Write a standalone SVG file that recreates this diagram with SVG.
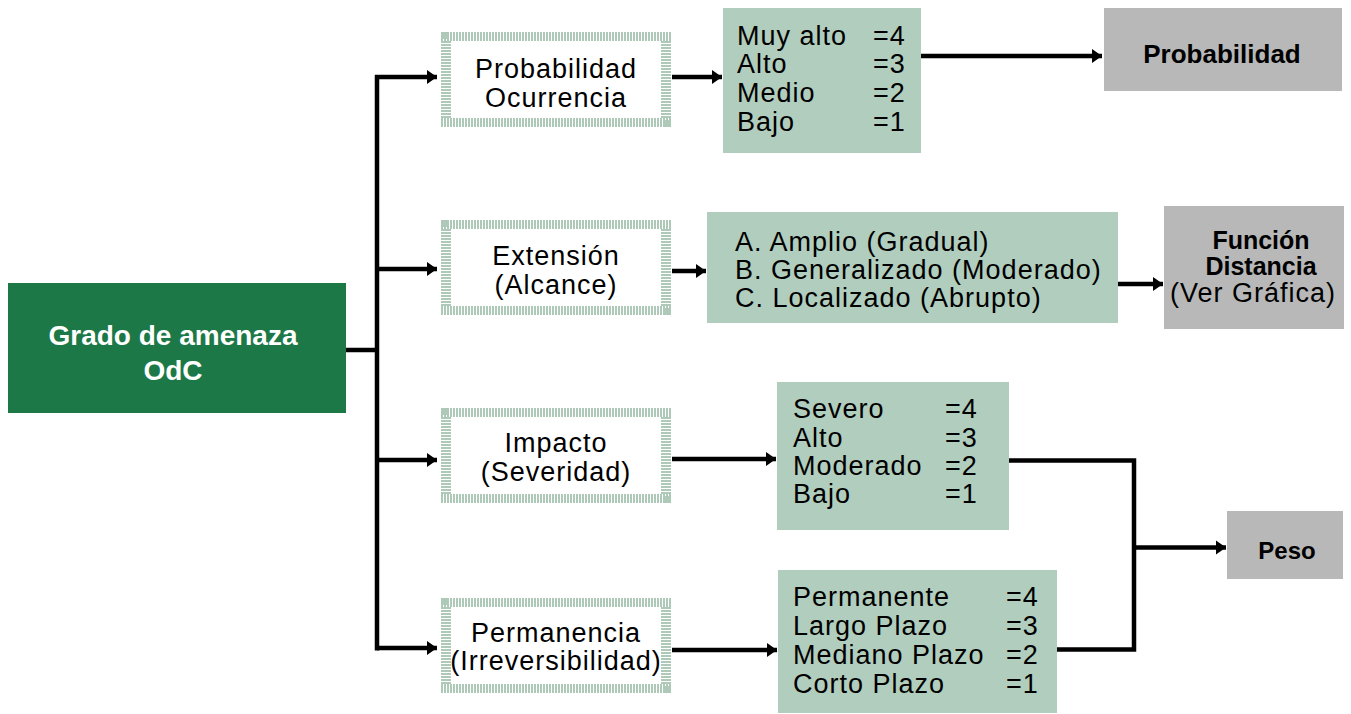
<svg xmlns="http://www.w3.org/2000/svg" width="1351" height="714" viewBox="0 0 1351 714">
<style>
text{font-family:"Liberation Sans",Arial,sans-serif;fill:#000}
.t{font-size:27px;letter-spacing:1px}
.c{text-anchor:middle}
.b{font-weight:bold}
.w{fill:#fff}
.val{fill:#b1cdbd}
.gray{fill:#b8b8b8}
.conn{fill:none;stroke:#000;stroke-width:4.5}
.arr{marker-end:url(#ah)}
</style>
<defs>
<pattern id="pv" width="3" height="20" patternUnits="userSpaceOnUse"><rect width="2" height="20" fill="#aec9b8"/></pattern>
<pattern id="ph" width="20" height="3" patternUnits="userSpaceOnUse"><rect width="20" height="2" fill="#aec9b8"/></pattern>
<marker id="ah" markerWidth="11" markerHeight="16" refX="10" refY="8" orient="auto" markerUnits="userSpaceOnUse">
<path d="M0,1 L10,8 L0,15 Z" fill="#000"/>
</marker>
<g id="frame">
<rect x="0" y="0" width="230" height="95" fill="#fff"/>
<rect x="0" y="0" width="230" height="9" fill="url(#pv)"/>
<rect x="0" y="86" width="230" height="9" fill="url(#pv)"/>
<rect x="0" y="9" width="10" height="77" fill="url(#ph)"/>
<rect x="220" y="9" width="10" height="77" fill="url(#ph)"/>
<rect x="0" y="0" width="7" height="7" fill="#aec9b8"/>
<rect x="223" y="88" width="7" height="7" fill="#aec9b8"/>
</g>
</defs>
<rect width="1351" height="714" fill="#fff"/>

<g id="connectors">
<path class="conn" d="M346,350 H377"/>
<path class="conn" d="M377,75 V650.5"/>
<path class="conn arr" d="M375,77 H437"/>
<path class="conn arr" d="M377,269 H437"/>
<path class="conn arr" d="M377,460 H437"/>
<path class="conn arr" d="M377,648 H437"/>
<path class="conn arr" d="M672,77 H722"/>
<path class="conn arr" d="M921,56 H1102"/>
<path class="conn arr" d="M672,271 H706"/>
<path class="conn arr" d="M1118,284 H1163"/>
<path class="conn arr" d="M672,459 H776"/>
<path class="conn arr" d="M672,650 H777"/>
<path class="conn" d="M1009,460.5 H1134 V649.5 H1057"/>
<path class="conn arr" d="M1134,547.5 H1226"/>
</g>

<g id="n-grado">
<rect x="8" y="283" width="338" height="130" fill="#1d7848"/>
<text class="b w c" x="173" y="345" font-size="28">Grado de amenaza</text>
<text class="b w c" x="173" y="380" font-size="28">OdC</text>
</g>

<g id="n-prob-ocu">
<use href="#frame" x="441" y="32"/>
<text class="t c" x="556" y="78">Probabilidad</text>
<text class="t c" x="556" y="107">Ocurrencia</text>
</g>
<g id="n-extension">
<use href="#frame" x="441" y="220"/>
<text class="t c" x="556" y="265">Extensión</text>
<text class="t c" x="556" y="294">(Alcance)</text>
</g>
<g id="n-impacto">
<use href="#frame" x="441" y="408"/>
<text class="t c" x="556" y="452">Impacto</text>
<text class="t c" x="556" y="481">(Severidad)</text>
</g>
<g id="n-permanencia">
<use href="#frame" x="441" y="598"/>
<text class="t c" x="556" y="642">Permanencia</text>
<text class="t c" x="556" y="670">(Irreversibilidad)</text>
</g>

<g id="n-val-prob">
<rect class="val" x="723" y="8" width="198" height="145"/>
<text class="t" x="737" y="45">Muy alto</text><text class="t" x="873" y="45">=4</text>
<text class="t" x="737" y="73">Alto</text><text class="t" x="873" y="73">=3</text>
<text class="t" x="737" y="102">Medio</text><text class="t" x="873" y="102">=2</text>
<text class="t" x="737" y="131">Bajo</text><text class="t" x="873" y="131">=1</text>
</g>
<g id="n-val-ext">
<rect class="val" x="707" y="212" width="411" height="111"/>
<text class="t" x="735" y="251">A. Amplio (Gradual)</text>
<text class="t" x="735" y="279">B. Generalizado (Moderado)</text>
<text class="t" x="735" y="307">C. Localizado (Abrupto)</text>
</g>
<g id="n-val-imp">
<rect class="val" x="777" y="382" width="232" height="148"/>
<text class="t" x="793" y="418">Severo</text><text class="t" x="945" y="418">=4</text>
<text class="t" x="793" y="447">Alto</text><text class="t" x="945" y="447">=3</text>
<text class="t" x="793" y="475">Moderado</text><text class="t" x="945" y="475">=2</text>
<text class="t" x="793" y="503">Bajo</text><text class="t" x="945" y="503">=1</text>
</g>
<g id="n-val-perm">
<rect class="val" x="778" y="570" width="279" height="143"/>
<text class="t" x="793" y="606">Permanente</text><text class="t" x="1006" y="606">=4</text>
<text class="t" x="793" y="635">Largo Plazo</text><text class="t" x="1006" y="635">=3</text>
<text class="t" x="793" y="664">Mediano Plazo</text><text class="t" x="1006" y="664">=2</text>
<text class="t" x="793" y="693">Corto Plazo</text><text class="t" x="1006" y="693">=1</text>
</g>

<g id="n-probabilidad">
<rect class="gray" x="1104" y="8" width="238" height="83"/>
<text class="b c" x="1222" y="63" font-size="26">Probabilidad</text>
</g>
<g id="n-funcion">
<rect class="gray" x="1164" y="206" width="180" height="123"/>
<text class="b c" x="1261" y="249" font-size="25">Función</text>
<text class="b c" x="1261" y="275" font-size="25">Distancia</text>
<text class="t c" x="1253" y="302">(Ver Gráfica)</text>
</g>
<g id="n-peso">
<rect class="gray" x="1227" y="511" width="116" height="68"/>
<text class="b c" x="1287" y="559" font-size="24">Peso</text>
</g>
</svg>
